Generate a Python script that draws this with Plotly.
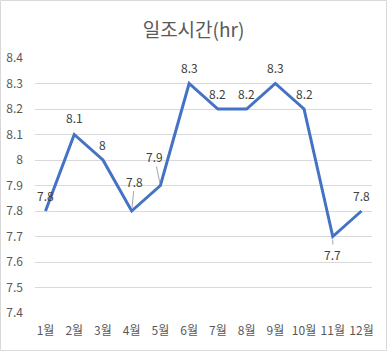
import plotly.graph_objects as go

months = ["1월", "2월", "3월", "4월", "5월", "6월", "7월", "8월", "9월", "10월", "11월", "12월"]
hours = [7.8, 8.1, 8.0, 7.8, 7.9, 8.3, 8.2, 8.2, 8.3, 8.2, 7.7, 7.8]
labels = ["7.8", "8.1", "8", "7.8", "7.9", "8.3", "8.2", "8.2", "8.3", "8.2", "7.7", "7.8"]
y_ticks = [7.4, 7.5, 7.6, 7.7, 7.8, 7.9, 8.0, 8.1, 8.2, 8.3, 8.4]
y_ticktext = ["7.4", "7.5", "7.6", "7.7", "7.8", "7.9", "8", "8.1", "8.2", "8.3", "8.4"]

# label offsets (px) and whether a leader line is drawn
offsets = [(0, -16), (0, -17), (0, -16), (3, -30), (-6, -29), (0, -16),
           (0, -16), (0, -16), (0, -16), (0, -16), (0, 18), (0, -16)]
leaders = [False, False, False, True, True, False, False, False, False, False, True, False]

FONT = "Noto Sans CJK KR, Noto Sans, sans-serif"
GRAY = "#595959"

fig = go.Figure()
fig.add_trace(go.Scatter(
    x=months, y=hours, mode="lines",
    line=dict(color="#4472C4", width=3),
    hoverinfo="skip",
))

annotations = []
for m, v, t, (dx, dy), lead in zip(months, hours, labels, offsets, leaders):
    if lead:
        annotations.append(dict(
            x=m, y=v, xref="x", yref="y", text=t, showarrow=True,
            ax=dx, ay=dy, arrowhead=0, arrowwidth=1, arrowcolor="#a6a6a6",
            standoff=3, font=dict(size=12, color="#404040", family=FONT),
        ))
    else:
        annotations.append(dict(
            x=m, y=v, xref="x", yref="y", text=t, showarrow=False,
            xshift=dx, yshift=-dy, font=dict(size=12, color="#404040", family=FONT),
        ))

W, H = 387, 351
L, R, T, B = 35, 15, 58, 38
pw, ph = W - L - R, H - T - B

fig.update_layout(
    width=W, height=H,
    margin=dict(l=L, r=R, t=T, b=B, autoexpand=False),
    paper_bgcolor="white", plot_bgcolor="white",
    showlegend=False,
    title=dict(text="일조시간(hr)", x=0.5, xanchor="center", y=1 - 30 / H, yanchor="middle",
               font=dict(size=19, color=GRAY, family=FONT)),
    xaxis=dict(showgrid=False, showline=False, zeroline=False, ticks="", automargin=False,
               tickfont=dict(size=12, color=GRAY, family=FONT), ticklabelstandoff=9),
    yaxis=dict(range=[7.4, 8.4], tickvals=y_ticks, ticktext=y_ticktext, automargin=False,
               showgrid=True, gridcolor="#d9d9d9", gridwidth=1, zeroline=False,
               showline=False, ticks="", ticklabelstandoff=11,
               tickfont=dict(size=12, color=GRAY, family=FONT)),
    annotations=annotations,
    shapes=[dict(type="rect", xref="paper", yref="paper",
                 x0=(-L + 0.5) / pw, x1=1 + (R - 0.5) / pw,
                 y0=(-B + 0.5) / ph, y1=1 + (T - 0.5) / ph,
                 line=dict(color="#d9d9d9", width=1), layer="below")],
)

fig.write_html("out.html")
